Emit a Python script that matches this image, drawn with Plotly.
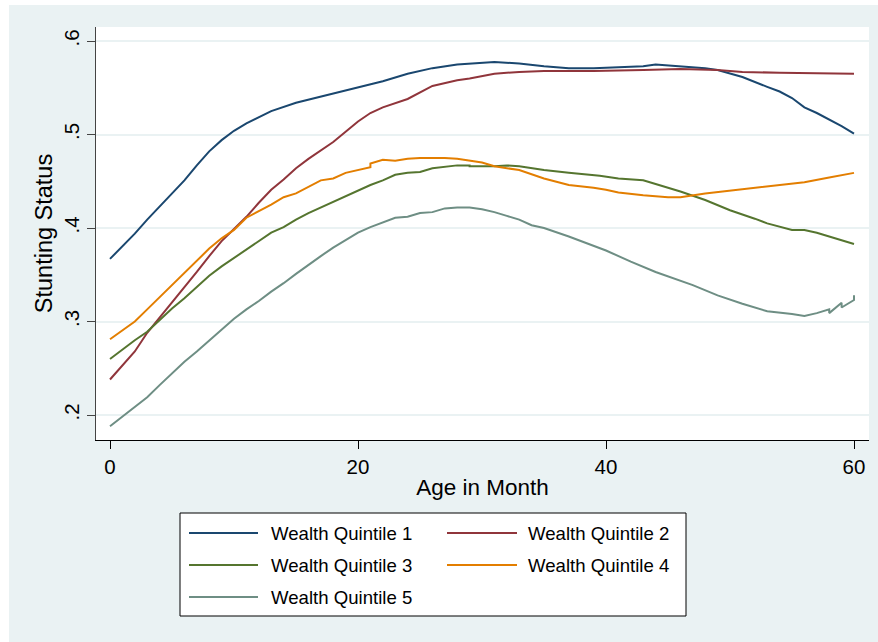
import plotly.graph_objects as go

# Stunting status by child age (months), one smoothed curve per wealth quintile
series_names = ["Wealth Quintile 1", "Wealth Quintile 2", "Wealth Quintile 3",
                "Wealth Quintile 4", "Wealth Quintile 5"]
series_colors = ["#1A476F", "#90353B", "#55752F", "#E37E00", "#6E8E84"]

q1_months = [0, 1, 2, 3, 4, 5, 6, 7, 8, 9, 10, 11, 13, 15, 18, 20, 21, 22, 24, 26, 28, 30, 31,
             33, 35, 37, 39, 41, 43, 44, 46, 48, 49, 51, 53, 54, 55, 56, 57, 59, 60]
q1_values = [.367, .380, .394, .409, .423, .437, .451, .467, .482, .494, .504, .512, .525, .534,
             .544, .551, .554, .557, .565, .571, .575, .577, .5775, .576, .573, .571, .571, .572,
             .573, .575, .573, .571, .569, .5615, .551, .546, .539, .529, .523, .509, .501]

q2_months = [0, 1, 2, 3, 4, 5, 6, 7, 8, 9, 10, 11, 12, 13, 14, 15, 16, 17, 18, 19, 20, 21, 22,
             24, 25, 26, 28, 29, 31, 33, 35, 39, 43, 46, 49, 51, 54, 60]
q2_values = [.238, .253, .268, .288, .304, .320, .337, .353, .370, .386, .399, .412, .427, .441,
             .452, .464, .474, .483, .492, .503, .514, .523, .529, .538, .545, .552, .558, .560,
             .565, .567, .568, .568, .569, .570, .569, .567, .566, .565]

q3_months = [0, 1, 2, 3, 4, 5, 6, 7, 8, 9, 10, 11, 12, 13, 14, 15, 16, 17, 18, 20, 21, 22, 23,
             24, 25, 26, 28, 29, 29, 31, 32, 33, 35, 37, 39.5, 41, 43, 44, 46, 48, 50, 52, 53,
             55, 56, 57, 60]
q3_values = [.260, .270, .280, .289, .302, .314, .325, .337, .349, .359, .368, .377, .386, .395,
             .401, .409, .416, .422, .428, .440, .446, .451, .457, .459, .460, .464, .467, .467,
             .466, .466, .467, .466, .462, .459, .456, .453, .451, .447, .439, .430, .419, .410,
             .405, .398, .398, .395, .383]

q4_months = [0, 1, 2, 3, 4, 5, 6, 7, 8, 9, 10, 11, 12, 13, 14, 15, 17, 18, 19, 21, 21, 22, 23,
             24, 25, 27, 28, 29, 30, 31, 33, 35, 37, 39, 40, 41, 43, 45, 46, 48, 50, 52, 54, 56,
             58, 60]
q4_values = [.281, .291, .300, .313, .326, .339, .352, .364, .378, .389, .398, .411, .418, .425,
             .433, .437, .451, .453, .459, .465, .469, .473, .472, .474, .475, .475, .474, .472,
             .470, .466, .462, .453, .446, .443, .441, .438, .435, .433, .433, .437, .440, .443,
             .446, .449, .454, .459]

q5_months = [0, 1, 2, 3, 4, 5, 6, 7, 8, 9, 10, 11, 12, 13, 14, 15, 16, 17, 18, 19, 20, 21, 22,
             23, 24, 25, 26, 27, 28, 29, 30, 31, 32, 33, 34, 35, 37, 39, 40, 42, 44, 47, 49, 51,
             53, 55, 56, 57, 58, 58, 59, 59, 60, 60]
q5_values = [.188, .198, .209, .219, .232, .245, .257, .268, .280, .291, .303, .313, .322, .332,
             .341, .351, .361, .370, .379, .387, .395, .401, .406, .411, .412, .416, .417, .421,
             .422, .422, .420, .417, .413, .409, .403, .400, .391, .381, .376, .364, .353, .339,
             .328, .319, .311, .308, .306, .309, .313, .309, .320, .315, .323, .328]

series_months = [q1_months, q2_months, q3_months, q4_months, q5_months]
series_values = [q1_values, q2_values, q3_values, q4_values, q5_values]

x_ticks = [0, 20, 40, 60]
y_ticks = [0.2, 0.3, 0.4, 0.5, 0.6]
y_tick_labels = [".2", ".3", ".4", ".5", ".6"]

# Canvas geometry (pixels)
W, H = 878, 642
PL, PR, PT, PB = 96, 869, 27, 440
BG = "#EAF2F3"
FONT = "Liberation Sans, Arial, Helvetica, sans-serif"


def fx(px):
    return (px - PL) / (PR - PL)


def fy(py):
    return (PB - py) / (PB - PT)


fig = go.Figure()
for name, color, xs, ys in zip(series_names, series_colors, series_months, series_values):
    fig.add_trace(go.Scatter(x=xs, y=ys, mode="lines", name=name, showlegend=False,
                             line=dict(color=color, width=2)))

shapes = [
    # white margins on the top and left edges of the canvas
    dict(type="rect", xref="paper", yref="paper", x0=fx(0), x1=fx(9), y0=fy(H), y1=fy(0),
         fillcolor="white", line_width=0, layer="below"),
    dict(type="rect", xref="paper", yref="paper", x0=fx(0), x1=fx(W), y0=fy(5), y1=fy(0),
         fillcolor="white", line_width=0, layer="below"),
    # legend frame
    dict(type="rect", xref="paper", yref="paper", x0=fx(180), x1=fx(686), y0=fy(616), y1=fy(513),
         fillcolor="white", line=dict(color="black", width=1)),
]
annotations = []

# legend: two columns, three rows
col_line_x = [(189, 258), (447, 517)]
col_text_x = [269, 526]
row_y = [533, 565, 597]
for i, (name, color) in enumerate(zip(series_names, series_colors)):
    col, row = i % 2, i // 2
    lx0, lx1 = col_line_x[col]
    ly = row_y[row]
    shapes.append(dict(type="line", xref="paper", yref="paper", x0=fx(lx0), x1=fx(lx1),
                       y0=fy(ly), y1=fy(ly), line=dict(color=color, width=2)))
    annotations.append(dict(xref="paper", yref="paper", x=fx(col_text_x[col]), y=fy(ly),
                            text=name, showarrow=False, xanchor="left", yanchor="middle",
                            font=dict(family=FONT, size=18.6, color="black")))

fig.update_layout(
    width=W, height=H,
    margin=dict(l=PL, r=W - PR, t=PT, b=H - PB, pad=0),
    paper_bgcolor=BG, plot_bgcolor="white",
    font=dict(family=FONT, color="black"),
    shapes=shapes, annotations=annotations,
    showlegend=False,
)
fig.update_xaxes(
    range=[-1.13, 61.21], tickvals=x_ticks, ticks="outside", ticklen=8, tickcolor="black",
    tickfont=dict(size=20.5), showline=True, linecolor="black", linewidth=1.2,
    showgrid=False, zeroline=False,
    title=dict(text="Age in Month", font=dict(size=22.5), standoff=2),
)
fig.update_yaxes(
    range=[0.1733, 0.615], tickvals=y_ticks, ticktext=y_tick_labels, tickangle=-90,
    ticks="outside", ticklen=8, tickcolor="#444", tickfont=dict(size=20.5),
    showline=True, linecolor="#444", linewidth=1.2,
    showgrid=True, gridcolor=BG, gridwidth=1.5, zeroline=False,
    title=dict(text="Stunting Status", font=dict(size=23.5), standoff=0),
)

fig.write_html("out.html")
